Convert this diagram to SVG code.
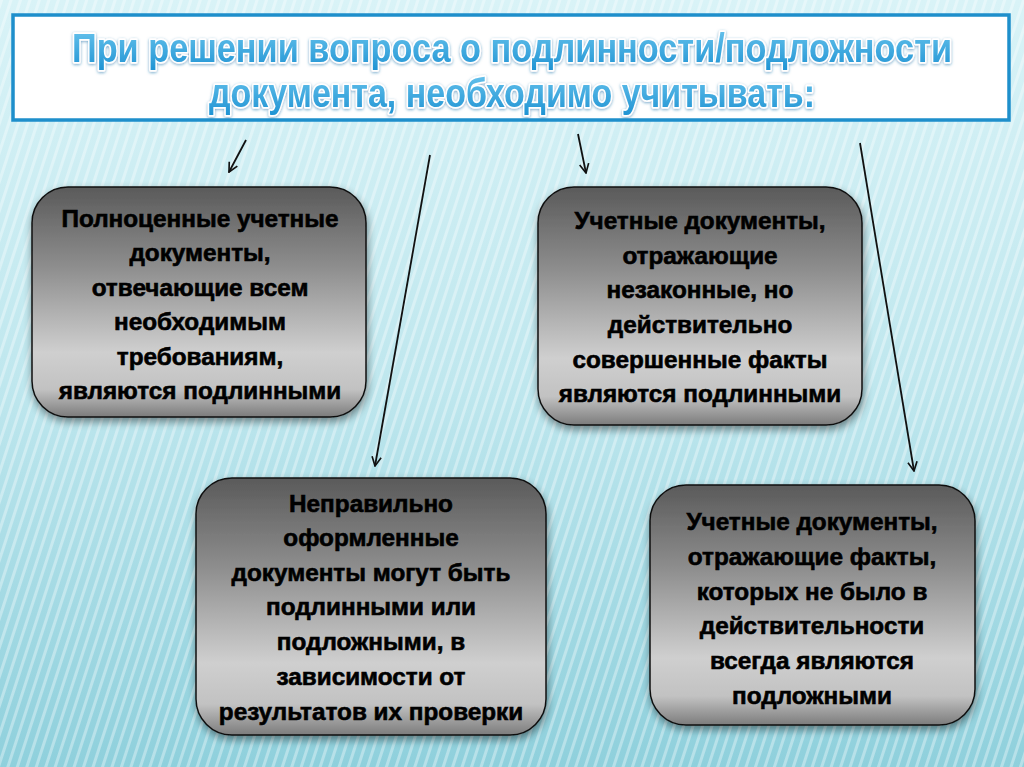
<svg xmlns="http://www.w3.org/2000/svg" width="1024" height="767" viewBox="0 0 1024 767">
<defs>
<linearGradient id="bg" x1="0" y1="0" x2="0" y2="1">
<stop offset="0" stop-color="#d9f3f7"/>
<stop offset="0.5" stop-color="#bfe7ee"/>
<stop offset="1" stop-color="#8fd0dc"/>
</linearGradient>
<pattern id="stripes" width="9" height="40" patternUnits="userSpaceOnUse" patternTransform="rotate(18)">
<rect x="0" y="0" width="3" height="40" fill="#ffffff" opacity="0.35"/>
</pattern>
<linearGradient id="box" x1="0" y1="0" x2="0" y2="1">
<stop offset="0" stop-color="#5a5a5a"/>
<stop offset="0.35" stop-color="#8e8e8e"/>
<stop offset="0.72" stop-color="#cfcfcf"/>
<stop offset="0.88" stop-color="#c2c2c2"/>
<stop offset="1" stop-color="#7c7c7c"/>
</linearGradient>
<filter id="shadow" x="-10%" y="-10%" width="120%" height="125%">
<feGaussianBlur in="SourceAlpha" stdDeviation="4"/>
<feOffset dx="1" dy="4" result="b"/>
<feComponentTransfer><feFuncA type="linear" slope="0.45"/></feComponentTransfer>
<feMerge><feMergeNode/><feMergeNode in="SourceGraphic"/></feMerge>
</filter>
<filter id="glow" filterUnits="userSpaceOnUse" x="0" y="0" width="1024" height="140">
<feGaussianBlur in="SourceAlpha" stdDeviation="1.5" result="a"/>
<feFlood flood-color="#1a6fa8" flood-opacity="0.6"/>
<feComposite in2="a" operator="in" result="c"/>
<feOffset dx="0" dy="1" result="d"/>
<feMerge><feMergeNode in="d"/><feMergeNode in="SourceGraphic"/></feMerge>
</filter>
<linearGradient id="titleFill" x1="0" y1="0" x2="0" y2="1">
<stop offset="0" stop-color="#6cc6ee"/>
<stop offset="1" stop-color="#1f93d3"/>
</linearGradient>
<marker id="arr" viewBox="0 0 12 12" refX="11" refY="6" markerWidth="11" markerHeight="11" markerUnits="userSpaceOnUse" orient="auto">
<path d="M1,1 L11,6 L1,11" fill="none" stroke="#111" stroke-width="1.8"/>
</marker>
</defs>
<style>
.box{fill:url(#box);stroke:#111;stroke-width:1.5;filter:url(#shadow)}
.t{font-family:"Liberation Sans",Arial,sans-serif;font-weight:bold;font-size:24.3px;fill:#000;stroke:#000;stroke-width:0.6;text-anchor:middle}
.title{font-family:"Liberation Sans",Arial,sans-serif;font-weight:bold;font-size:34px;fill:url(#titleFill);stroke:#ffffff;stroke-width:3;paint-order:stroke;stroke-linejoin:round;text-anchor:middle}
.conn{stroke:#111;stroke-width:1.8;fill:none;marker-end:url(#arr)}
</style>
<rect width="1024" height="767" fill="url(#bg)"/>
<rect width="1024" height="767" fill="url(#stripes)"/>
<g id="title">
<rect x="13" y="15" width="996" height="105" fill="#ffffff" stroke="#1e8fcb" stroke-width="3.5"/>
<g filter="url(#glow)">
<text class="title" transform="translate(512,62) scale(1,1.18)" x="0" y="0" textLength="880" lengthAdjust="spacingAndGlyphs">При решении вопроса о подлинности/подложности</text>
<text class="title" transform="translate(512,107) scale(1,1.18)" x="0" y="0" textLength="606" lengthAdjust="spacingAndGlyphs">документа, необходимо учитывать:</text>
</g>
</g>
<g id="connectors">
<line class="conn" x1="246" y1="140" x2="229" y2="172"/>
<line class="conn" x1="430" y1="155" x2="375" y2="466"/>
<line class="conn" x1="578" y1="134" x2="586" y2="173"/>
<line class="conn" x1="860" y1="143" x2="914" y2="471"/>
</g>
<g id="box1">
<rect class="box" x="32" y="187" width="334" height="230" rx="36"/>
<text class="t" x="200" y="227">Полноценные учетные</text>
<text class="t" x="200" y="261">документы,</text>
<text class="t" x="200" y="296">отвечающие всем</text>
<text class="t" x="200" y="330">необходимым</text>
<text class="t" x="200" y="365">требованиям,</text>
<text class="t" x="200" y="399">являются подлинными</text>
</g>
<g id="box2">
<rect class="box" x="538" y="187" width="324" height="238" rx="36"/>
<text class="t" x="700" y="229">Учетные документы,</text>
<text class="t" x="700" y="264">отражающие</text>
<text class="t" x="700" y="298">незаконные, но</text>
<text class="t" x="700" y="333">действительно</text>
<text class="t" x="700" y="368">совершенные факты</text>
<text class="t" x="700" y="402">являются подлинными</text>
</g>
<g id="box3">
<rect class="box" x="196" y="478" width="350" height="257" rx="36"/>
<text class="t" x="371" y="512">Неправильно</text>
<text class="t" x="371" y="546">оформленные</text>
<text class="t" x="371" y="581">документы могут быть</text>
<text class="t" x="371" y="615">подлинными или</text>
<text class="t" x="371" y="650">подложными, в</text>
<text class="t" x="371" y="685">зависимости от</text>
<text class="t" x="371" y="720">результатов их проверки</text>
</g>
<g id="box4">
<rect class="box" x="650" y="485" width="325" height="240" rx="36"/>
<text class="t" x="812" y="530">Учетные документы,</text>
<text class="t" x="812" y="565">отражающие факты,</text>
<text class="t" x="812" y="600">которых не было в</text>
<text class="t" x="812" y="634">действительности</text>
<text class="t" x="812" y="669">всегда являются</text>
<text class="t" x="812" y="704">подложными</text>
</g>
</svg>
